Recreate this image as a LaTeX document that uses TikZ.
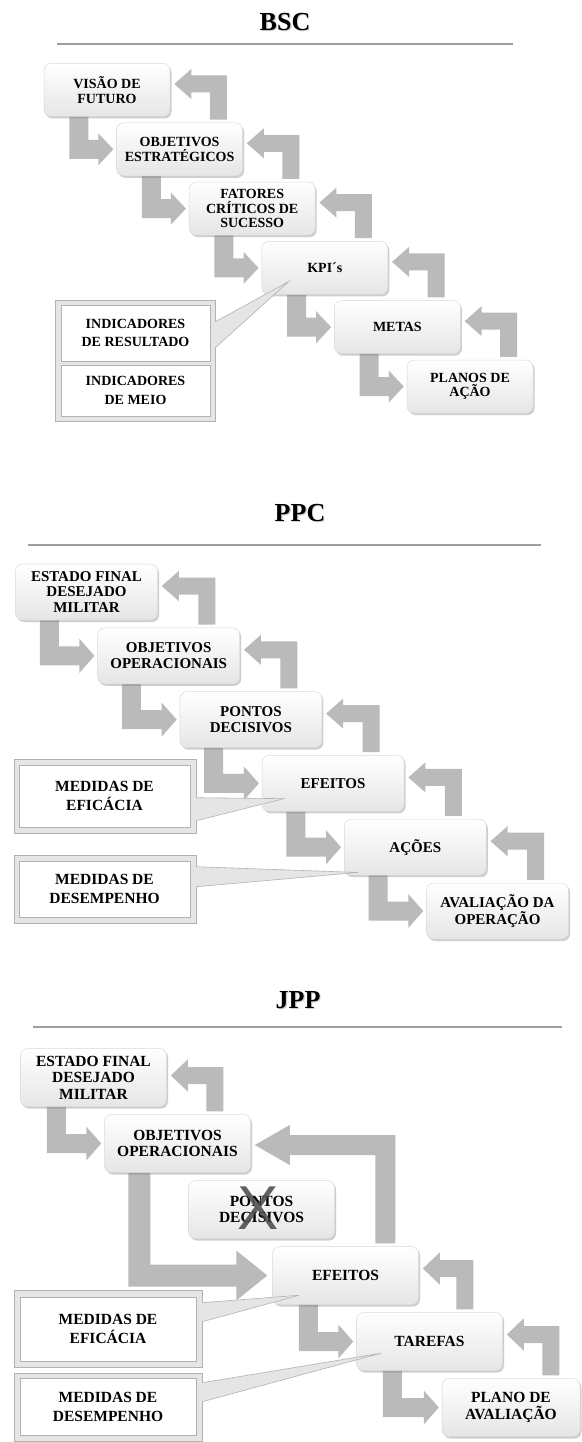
\documentclass[tikz,border=0pt]{standalone}
\usepackage{fontspec}
\setmainfont{Liberation Serif}
\setsansfont{Liberation Sans}
\usetikzlibrary{calc,shadows}
\pgfdeclarelayer{bottom}
\pgfdeclarelayer{arrows}
\pgfsetlayers{bottom,arrows,main}

\tikzset{
  arrowfill/.style={fill=black!27},
  basebox/.style={rounded corners=7pt, top color=white, bottom color=black!10,
    draw=black!15, line width=0.5pt, align=center, inner sep=0pt,
    drop shadow={shadow xshift=1.5pt, shadow yshift=-2pt, opacity=0.35, fill=black!55}},
  bscbox/.style={basebox, minimum width=126pt, minimum height=53pt,
    font=\fontsize{14}{14.5}\selectfont\bfseries},
  ppcbox/.style={basebox, minimum width=142pt, minimum height=56pt,
    font=\fontsize{15}{15.7}\selectfont\bfseries},
  jppbox/.style={basebox, minimum width=146pt, minimum height=58pt,
    font=\fontsize{15.5}{16.5}\selectfont\bfseries},
  frameout/.style={draw=black!30, fill=black!10, line width=0.6pt, inner sep=0pt},
  framein/.style={draw=black!30, fill=white, line width=0.6pt, inner sep=0pt, align=center},
  bscin/.style={framein, font=\fontsize{14}{18.5}\selectfont\bfseries},
  medin/.style={framein, font=\fontsize{15.5}{19}\selectfont\bfseries},
  wedgefill/.style={fill=black!10},
  wedgeline/.style={draw=black!30, line width=0.6pt},
  titletext/.style={font=\fontsize{26}{28}\selectfont\bfseries, inner sep=0pt},
  titleshadow/.style={titletext, text=black!30, text opacity=0.6},
  rulerline/.style={draw=black!38, line width=2.4pt},
}

% forward (down then right) arrow: #1 from, #2 to, #3 offset, #4 thickness, #5 head half, #6 head length, #7 gap
\newcommand\fwdarr[7]{%
  \coordinate (fs) at ($(#1.south west)+(#3,-5)$);
  \coordinate (ft) at ($(#2.west)+(-#7,0)$);
  \coordinate (fc) at (fs|-ft);
  \fill[arrowfill] ($(fs)+(-#4/2,0)$) -- ($(fc)+(-#4/2,#4/2)$) -- ($(ft)+(-#6,#4/2)$)
    -- ($(ft)+(-#6,#5)$) -- (ft) -- ($(ft)+(-#6,-#5)$) -- ($(ft)+(-#6,-#4/2)$)
    -- ($(fc)+(#4/2,-#4/2)$) -- ($(fs)+(#4/2,0)$) -- cycle;}

% backward (up then left) arrow: #1 upper box, #2 lower box, #3 offset, #4 thickness, #5 head half, #6 head length, #7 tip dy
\newcommand\backarr[7]{%
  \coordinate (bp) at (#1.east|-#2.north);
  \coordinate (bs) at ($(bp)+(#3,-3)$);
  \coordinate (bt) at ($(#1.east)+(4,#7)$);
  \coordinate (bc) at (bs|-bt);
  \fill[arrowfill] ($(bs)+(#4/2,0)$) -- ($(bc)+(#4/2,-#4/2)$) -- ($(bt)+(#6,-#4/2)$)
    -- ($(bt)+(#6,-#5)$) -- (bt) -- ($(bt)+(#6,#5)$) -- ($(bt)+(#6,#4/2)$)
    -- ($(bc)+(-#4/2,#4/2)$) -- ($(bs)+(-#4/2,0)$) -- cycle;}

\begin{document}
\begin{tikzpicture}[x=1pt,y=-1pt]
\useasboundingbox (0,0) rectangle (581,1442);
\begin{pgfonlayer}{bottom}
\fill[white] (0,0) rectangle (581,1442);
\end{pgfonlayer}

% ================= BSC =================
\node[titleshadow] (bscTs) at (286.2,23.2) {BSC};
\node[titletext] (bscT) at (285,22) {BSC};
\coordinate (bscL1) at (57,44);
\coordinate (bscL2) at (513,44);
\draw[rulerline] (bscL1) -- (bscL2);

\node[bscbox] (B1) at (107,90) {VISÃO DE\\FUTURO};
\node[bscbox] (B2) at (179.6,149.3) {OBJETIVOS\\ESTRATÉGICOS};
\node[bscbox] (B3) at (252.2,208.6) {FATORES\\CRÍTICOS DE\\SUCESSO};
\node[bscbox] (B4) at (324.8,267.9) {KPI´s};
\node[bscbox] (B5) at (397.4,327.2) {METAS};
\node[bscbox] (B6) at (470,386.5) {PLANOS DE\\AÇÃO};

\begin{pgfonlayer}{arrows}
\fwdarr{B1}{B2}{35}{19}{16}{15}{3}
\fwdarr{B2}{B3}{35}{19}{16}{15}{3}
\fwdarr{B3}{B4}{35}{19}{16}{15}{3}
\fwdarr{B4}{B5}{35}{19}{16}{15}{3}
\fwdarr{B5}{B6}{35}{19}{16}{15}{3}
\backarr{B1}{B2}{48}{17}{15}{17}{-6}
\backarr{B2}{B3}{48}{17}{15}{17}{-6}
\backarr{B3}{B4}{48}{17}{15}{17}{-6}
\backarr{B4}{B5}{48}{17}{15}{17}{-6}
\backarr{B5}{B6}{48}{17}{15}{17}{-6}
\end{pgfonlayer}

\node[frameout, minimum width=160pt, minimum height=121pt] (bf) at (135,360.5) {};
\coordinate (bw1) at ($(bf.north east)+(0,22)$);
\coordinate (bw2) at ($(bf.north east)+(0,48)$);
\coordinate (bwt) at ($(B4.south west)+(27,-13)$);
\fill[wedgefill] ($(bw1)+(-4,0)$) -- (bw1) -- (bwt) -- (bw2) -- ($(bw2)+(-4,0)$) -- cycle;
\draw[wedgeline] (bw1) -- (bwt) -- (bw2);
\node[bscin, minimum width=149pt, minimum height=56pt] (bi1) at (135.5,333) {INDICADORES\\DE RESULTADO};
\node[bscin, minimum width=149pt, minimum height=51pt] (bi2) at (135.5,390.5) {INDICADORES\\DE MEIO};

% ================= PPC =================
\node[titleshadow] (ppcTs) at (301.2,514.2) {PPC};
\node[titletext] (ppcT) at (300,513) {PPC};
\coordinate (ppcL1) at (28,545);
\coordinate (ppcL2) at (541,545);
\draw[rulerline] (ppcL1) -- (ppcL2);

\node[ppcbox] (P1) at (86.5,592) {ESTADO FINAL\\DESEJADO\\MILITAR};
\node[ppcbox] (P2) at (168.7,655.8) {OBJETIVOS\\OPERACIONAIS};
\node[ppcbox] (P3) at (250.9,719.6) {PONTOS\\DECISIVOS};
\node[ppcbox] (P4) at (333.1,783.4) {EFEITOS};
\node[ppcbox] (P5) at (415.3,847.2) {AÇÕES};
\node[ppcbox] (P6) at (497.5,911) {AVALIAÇÃO DA\\OPERAÇÃO};

\begin{pgfonlayer}{arrows}
\fwdarr{P1}{P2}{34}{19}{17}{15}{3}
\fwdarr{P2}{P3}{34}{19}{17}{15}{3}
\fwdarr{P3}{P4}{34}{19}{17}{15}{3}
\fwdarr{P4}{P5}{34}{19}{17}{15}{3}
\fwdarr{P5}{P6}{34}{19}{17}{15}{3}
\backarr{P1}{P2}{49}{17}{15}{17}{-6}
\backarr{P2}{P3}{49}{17}{15}{17}{-6}
\backarr{P3}{P4}{49}{17}{15}{17}{-6}
\backarr{P4}{P5}{49}{17}{15}{17}{-6}
\backarr{P5}{P6}{49}{17}{15}{17}{-6}
\end{pgfonlayer}

\node[frameout, minimum width=182pt, minimum height=74pt] (pf1) at (105,796) {};
\coordinate (pw1) at ($(pf1.north east)+(0,39)$);
\coordinate (pw2) at ($(pf1.north east)+(0,62)$);
\coordinate (pwt) at ($(P4.south west)+(22,-13)$);
\fill[wedgefill] ($(pw1)+(-4,0)$) -- (pw1) -- (pwt) -- (pw2) -- ($(pw2)+(-4,0)$) -- cycle;
\draw[wedgeline] (pw1) -- (pwt) -- (pw2);
\node[medin, minimum width=171pt, minimum height=62pt] (pi1) at (104.5,796) {MEDIDAS DE\\EFICÁCIA};

\node[frameout, minimum width=182pt, minimum height=68pt] (pf2) at (105,889) {};
\coordinate (pv1) at ($(pf2.north east)+(0,12)$);
\coordinate (pv2) at ($(pf2.north east)+(0,32)$);
\coordinate (pvt) at ($(P5.south west)+(14,-3)$);
\fill[wedgefill] ($(pv1)+(-4,0)$) -- (pv1) -- (pvt) -- (pv2) -- ($(pv2)+(-4,0)$) -- cycle;
\draw[wedgeline] (pv1) -- (pvt) -- (pv2);
\node[medin, minimum width=171pt, minimum height=56pt] (pi2) at (104.5,889) {MEDIDAS DE\\DESEMPENHO};

% ================= JPP =================
\node[titleshadow] (jppTs) at (299.2,1001.2) {JPP};
\node[titletext] (jppT) at (298,1000) {JPP};
\coordinate (jppL1) at (33,1027);
\coordinate (jppL2) at (562,1027);
\draw[rulerline] (jppL1) -- (jppL2);

\node[jppbox] (J1) at (93.5,1077.5) {ESTADO FINAL\\DESEJADO\\MILITAR};
\node[jppbox] (J2) at (177.5,1143.5) {OBJETIVOS\\OPERACIONAIS};
\node[jppbox] (J3) at (261.5,1209.5) {PONTOS\\DECISIVOS};
\node[jppbox] (J4) at (345.5,1275.5) {EFEITOS};
\node[jppbox] (J5) at (429.5,1341.5) {TAREFAS};
\node[jppbox, minimum width=138pt] (J6) at (511,1407.5) {PLANO DE\\AVALIAÇÃO};
\node[font=\sffamily\fontsize{62}{62}\selectfont, text=black!72, text opacity=0.85, inner sep=0pt] (xmark) at (258,1208) {X};

\begin{pgfonlayer}{arrows}
\fwdarr{J1}{J2}{36}{19}{17}{15}{3}
\fwdarr{J2}{J4}{35}{22}{25}{31}{5}
\fwdarr{J4}{J5}{36}{19}{17}{15}{3}
\fwdarr{J5}{J6}{36}{19}{17}{15}{3}
\backarr{J1}{J2}{48}{17}{16}{17}{-2}
\backarr{J2}{J4}{134.5}{20}{20}{35}{1.5}
\backarr{J4}{J5}{46}{17}{16}{17}{-7}
\backarr{J5}{J6}{48}{17}{16}{17}{-7}
\end{pgfonlayer}

\node[frameout, minimum width=188pt, minimum height=77pt] (jf1) at (108,1328.5) {};
\coordinate (jw1) at ($(jf1.north east)+(0,13)$);
\coordinate (jw2) at ($(jf1.north east)+(0,32)$);
\coordinate (jwt) at ($(J4.south west)+(27,-9.5)$);
\fill[wedgefill] ($(jw1)+(-4,0)$) -- (jw1) -- (jwt) -- (jw2) -- ($(jw2)+(-4,0)$) -- cycle;
\draw[wedgeline] (jw1) -- (jwt) -- (jw2);
\node[medin, minimum width=176pt, minimum height=64pt] (ji1) at (108,1329) {MEDIDAS DE\\EFICÁCIA};

\node[frameout, minimum width=188pt, minimum height=68pt] (jf2) at (108,1407) {};
\coordinate (jv1) at ($(jf2.north east)+(0,10)$);
\coordinate (jv2) at ($(jf2.north east)+(0,29)$);
\coordinate (jvt) at ($(J5.south west)+(24.5,-17.5)$);
\fill[wedgefill] ($(jv1)+(-4,0)$) -- (jv1) -- (jvt) -- (jv2) -- ($(jv2)+(-4,0)$) -- cycle;
\draw[wedgeline] (jv1) -- (jvt) -- (jv2);
\node[medin, minimum width=176pt, minimum height=57pt] (ji2) at (108,1407) {MEDIDAS DE\\DESEMPENHO};
\end{tikzpicture}
\end{document}
